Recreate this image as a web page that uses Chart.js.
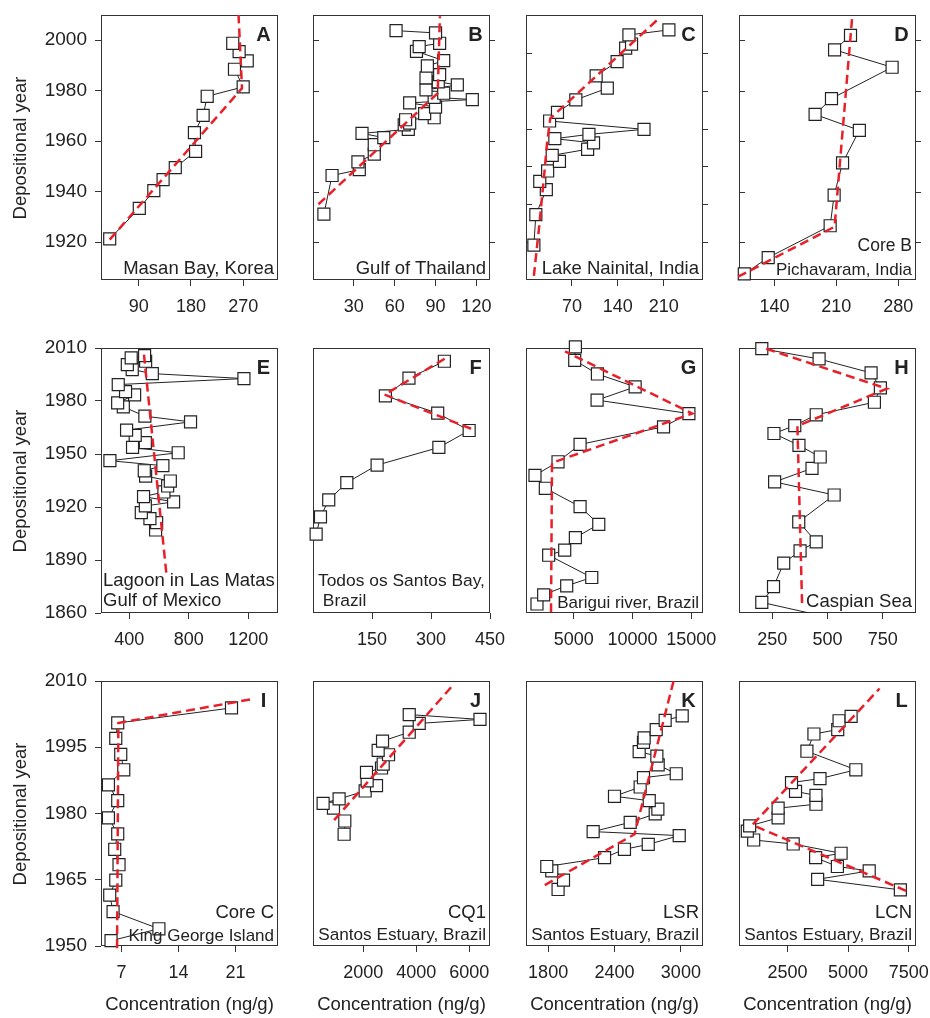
<!DOCTYPE html>
<html>
<head>
<meta charset="utf-8">
<script src="https://cdn.jsdelivr.net/npm/chart.js@4.4.1/dist/chart.umd.min.js"></script>
<style>
  body { margin: 0; background: #fff; }
  #fig { position: relative; width: 930px; height: 1018px; overflow: hidden; font-family: "Liberation Sans", Arial, sans-serif; color: #222; }
  #fig canvas { position: absolute; }
  .lbl { position: absolute; white-space: pre; font-size: 18.5px; line-height: 18.5px; z-index: 2; }
</style>
</head>
<body>
<div id="fig"></div>
<script>
// ---- data (concentration in ng/g, depositional year) ----
const aConc = [40, 91, 116, 132, 153, 188, 186, 201, 208, 270, 255, 277, 263, 252];
const aYear = [1921.3, 1933.4, 1940.4, 1944.8, 1949.5, 1956, 1963.4, 1970.2, 1977.8, 1981.5, 1988.5, 1991.8, 1995.5, 1998.8];
const aFitConc = [40, 268, 262];
const aFitYear = [1921, 1981, 2010];

const bConc = [8, 14, 34, 33, 45, 45, 52, 36, 70, 67, 71, 68, 89, 82, 90, 71, 117, 89, 96, 83, 106, 92, 83, 93, 84, 96, 76, 78, 93, 90, 61];
const bYear = [1931.1, 1946.4, 1948.7, 1951.8, 1954.9, 1958.6, 1961.4, 1963.1, 1964.7, 1966.5, 1967.2, 1968.5, 1969.3, 1970.9, 1973.5, 1975.2, 1976.5, 1977.4, 1979, 1980.3, 1982.3, 1983.5, 1985.1, 1986.4, 1989.8, 1991.9, 1995.6, 1997.5, 1998.8, 2002.9, 2003.8];
const bFitConc = [4, 91.6, 93.2];
const bFitYear = [1935, 1979, 2009.5];

const cConc = [12, 15, 31, 21, 33, 51, 40, 94, 103, 44, 96, 180, 36, 48, 76, 124, 107, 139, 152, 161, 157, 218];
const cYear = [1918.8, 1930.9, 1940.8, 1944.1, 1948.2, 1952, 1954.4, 1956.8, 1959.3, 1961, 1962.7, 1964.7, 1968, 1971.4, 1976.4, 1981, 1985.9, 1991.5, 1996.9, 1998.5, 2002.1, 2004.1];
const cFitConc = [12, 20, 27, 32, 37, 200];
const cFitYear = [1906.6, 1926, 1944.5, 1959, 1969, 2008];

const dConc = [106, 133, 203, 207.5, 217, 236, 186, 204.5, 273, 208, 226];
const dYear = [1907.4, 1913.9, 1926.5, 1938.6, 1951.4, 1964.3, 1970.6, 1976.9, 1989.3, 1996.2, 2001.9];
const dFitConc = [99, 208, 228];
const dFitYear = [1906.3, 1926.1, 2009.7];

const eConc = [577, 584, 539, 481, 508, 698, 496, 633, 658, 676, 510, 501, 626, 270, 729, 422, 508, 440, 382, 812, 505, 360, 322, 436, 375, 326, 1171, 555, 420, 387, 510, 413, 503];
const eYear = [1907, 1911.2, 1913.4, 1916.8, 1920.6, 1922.9, 1925.9, 1928.5, 1931.9, 1934.7, 1937.5, 1940.5, 1943.4, 1946.2, 1950.7, 1953.7, 1956.4, 1960.5, 1963.5, 1968.2, 1971.4, 1976.7, 1978.9, 1983.5, 1985.3, 1989.3, 1992.7, 1995.5, 1997.8, 2000.6, 2002.5, 2004.4, 2005.7];
const eFitConc = [499, 651];
const eFitYear = [2006.2, 1881];

const fConc = [8, 19, 40, 86, 163, 320, 397, 317, 184, 244, 334];
const fYear = [1904.6, 1914.4, 1924, 1933.8, 1943.7, 1953.7, 1963.3, 1973.1, 1982.9, 1992.9, 2002.5];
const fFitConc = [402, 182, 345];
const fFitYear = [1964.3, 1983.6, 2005.3];

const gConc = [1875, 2443, 4403, 6534, 2869, 4233, 5142, 7131, 5540, 2585, 1705, 3665, 5540, 12642, 14801, 6989, 10227, 7017, 5085, 5142];
const gYear = [1865.1, 1870.3, 1875.4, 1880.1, 1892.7, 1895.6, 1902.7, 1910.2, 1920.2, 1930.6, 1937.9, 1945.6, 1955.4, 1965.4, 1972.9, 1980.5, 1988, 1995.3, 2003, 2010.6];
const gFitConc = [3068, 3153, 15085, 4261];
const gFitYear = [1860.4, 1945, 1972.9, 2008.1];

const hConc = [203, 256, 302, 376, 449, 370, 530, 261, 430, 467, 371, 258, 352, 449, 712, 739, 697, 462, 203];
const hYear = [1866, 1874.9, 1888.2, 1895.2, 1900.3, 1911.6, 1926.8, 1934.2, 1941.9, 1948.3, 1954.9, 1961.6, 1966.1, 1972.2, 1979.3, 1987.4, 1995.9, 2003.8, 2009.6];
const hTailConc = [203, 560];   // segment leaving the bottom of the panel
const hTailYear = [1866, 1856];
const hFitConc = [385, 364, 768, 223];
const hFitYear = [1865.6, 1965.8, 1987, 2009.6];

const iConc = [5.73, 11.6, 5.98, 5.57, 6.31, 6.71, 6.18, 6.55, 5.41, 6.55, 5.41, 7.29, 6.92, 6.31, 6.55, 20.5];
const iYear = [1951.2, 1953.9, 1957.8, 1961.5, 1964.9, 1968.4, 1971.9, 1975.4, 1979, 1982.9, 1986.5, 1989.9, 1993.4, 1997, 2000.5, 2003.9];
const iFitConc = [6.47, 6.63, 23];
const iFitYear = [1949.5, 2000.5, 2005.9];

const jConc = [1283, 1308, 881, 491, 1094, 2075, 2503, 2151, 2126, 2692, 2755, 2956, 2566, 2730, 3736, 4113, 6403, 3736];
const jYear = [1975.3, 1978.3, 1981.2, 1982.3, 1983.3, 1985.1, 1986.3, 1987.4, 1989.3, 1990.3, 1991.2, 1993.3, 1994.3, 1996.4, 1998.4, 2000.4, 2001.3, 2002.4];
const jFitConc = [906, 5434];
const jFitYear = [1978.5, 2009.4];

const kConc = [1890, 1939, 1833, 1788, 2310, 2490, 2705, 2985, 2207, 2542, 2768, 2792, 2714, 2400, 2632, 2662, 2958, 2795, 2783, 2623, 2662, 2668, 2777, 2858, 3012];
const kYear = [1962.8, 1964.9, 1967, 1968, 1970, 1971.9, 1973, 1975, 1975.9, 1978, 1979.9, 1981, 1982.9, 1983.9, 1986, 1988.1, 1989, 1991, 1993, 1994, 1996.1, 1997.1, 1999, 2001.1, 2002.1];
const kFitConc = [1770, 2581, 2934];
const kFitYear = [1963.8, 1975.3, 2010];

const lConc = [7155, 3743, 5870, 4558, 3660, 4710, 2735, 1105, 843, 939, 2113, 2113, 3674, 3674, 2831, 2666, 3840, 5318, 3301, 3591, 4572, 4627, 5124];
const lYear = [1962.7, 1965.1, 1967, 1968, 1970, 1971, 1973.1, 1974, 1976, 1977.2, 1979, 1981.2, 1982.1, 1984.1, 1985, 1987, 1987.9, 1989.9, 1994.1, 1998, 1999, 2001, 2002];
const lFitConc = [7390, 1050, 6298];
const lFitYear = [1962.5, 1977.4, 2008.3];

// ---- tick labels ----
const row1YearTicks = [1920, 1940, 1960, 1980, 2000];
const cYearTicks = [1920, 1935, 1950, 1965, 1980, 1995];
const row2YearTicks = [1860, 1890, 1920, 1950, 1980, 2010];
const row3YearTicks = [1950, 1965, 1980, 1995, 2010];
const aTicks = [90, 180, 270];
const bTicks = [30, 60, 90, 120];
const cTicks = [70, 140, 210];
const dTicks = [140, 210, 280];
const eTicks = [400, 800, 1200];
const fTicks = [150, 300, 450];
const gTicks = [5000, 10000, 15000];
const hTicks = [250, 500, 750];
const iTicks = [7, 14, 21];
const jTicks = [2000, 4000, 6000];
const kTicks = [1800, 2400, 3000];
const lTicks = [2500, 5000, 7500];

const yTitle = 'Depositional year';
const xTitle = 'Concentration (ng/g)';

// ---- layout ----
const FONT = '"Liberation Sans", Arial, sans-serif';
const colLeft = [101, 313, 526, 739];
const rowTop = [15, 348, 681];
const boxW = 177, boxH = 265;
const rowYears = [[1905, 2010], [1860, 2010], [1950, 2010]];

// text: site lines; fs: font size of each line (some are set a bit narrower in the figure)
const panels = [
  { id: 'A', row: 0, col: 0, conc: aConc, year: aYear, fx: aFitConc, fy: aFitYear, x: [25, 330], xt: aTicks, yt: row1YearTicks, text: ['Masan Bay, Korea'], fs: [18.5] },
  { id: 'B', row: 0, col: 1, conc: bConc, year: bYear, fx: bFitConc, fy: bFitYear, x: [0, 130], xt: bTicks, yt: row1YearTicks, side: true, text: ['Gulf of Thailand'], fs: [18.5] },
  { id: 'C', row: 0, col: 2, conc: cConc, year: cYear, fx: cFitConc, fy: cFitYear, x: [0, 270], xt: cTicks, yt: cYearTicks, side: true, text: ['Lake Nainital, India'], fs: [18.5] },
  { id: 'D', row: 0, col: 3, conc: dConc, year: dYear, fx: dFitConc, fy: dFitYear, x: [100, 300], xt: dTicks, yt: row1YearTicks, side: true, text: ['Core B', 'Pichavaram, India'], fs: [17.5, 17] },
  { id: 'E', row: 1, col: 0, conc: eConc, year: eYear, fx: eFitConc, fy: eFitYear, x: [210, 1400], xt: eTicks, yt: row2YearTicks, left: 2, text: ['Lagoon in Las Matas', 'Gulf of Mexico'], fs: [18.5, 18.5] },
  { id: 'F', row: 1, col: 1, conc: fConc, year: fYear, fx: fFitConc, fy: fFitYear, x: [0, 450], xt: fTicks, yt: row2YearTicks, left: 5, text: ['Todos os Santos Bay,', ' Brazil'], fs: [17.4, 17.4] },
  { id: 'G', row: 1, col: 2, conc: gConc, year: gYear, fx: gFitConc, fy: gFitYear, x: [940, 16000], xt: gTicks, yt: row2YearTicks, text: ['Barigui river, Brazil'], fs: [17] },
  { id: 'H', row: 1, col: 3, conc: hConc, year: hYear, fx: hFitConc, fy: hFitYear, x: [100, 900], xt: hTicks, yt: row2YearTicks, tail: [hTailConc, hTailYear], text: ['Caspian Sea'], fs: [18.5] },
  { id: 'I', row: 2, col: 0, conc: iConc, year: iYear, fx: iFitConc, fy: iFitYear, x: [4.5, 26.2], xt: iTicks, yt: row3YearTicks, text: ['Core C', 'King George Island'], fs: [18.5, 17] },
  { id: 'J', row: 2, col: 1, conc: jConc, year: jYear, fx: jFitConc, fy: jFitYear, x: [110, 6780], xt: jTicks, yt: row3YearTicks, text: ['CQ1', 'Santos Estuary, Brazil'], fs: [18.5, 17.2] },
  { id: 'K', row: 2, col: 2, conc: kConc, year: kYear, fx: kFitConc, fy: kFitYear, x: [1600, 3200], xt: kTicks, yt: row3YearTicks, text: ['LSR', 'Santos Estuary, Brazil'], fs: [18.5, 17.2] },
  { id: 'L', row: 2, col: 3, conc: lConc, year: lYear, fx: lFitConc, fy: lFitYear, x: [500, 7800], xt: lTicks, yt: row3YearTicks, text: ['LCN', 'Santos Estuary, Brazil'], fs: [18.5, 17.2] },
];

const fig = document.getElementById('fig');
const zip = (xs, ys) => xs.map((x, i) => ({ x: x, y: ys[i] }));

// box round the plot area, plus the small unlabelled year ticks on panels B-D
const framePlugin = {
  id: 'frame',
  beforeDatasetsDraw(chart, args, opts) {
    const a = chart.chartArea, ctx = chart.ctx;
    ctx.save();
    ctx.strokeStyle = '#333';
    ctx.lineWidth = 1;
    ctx.strokeRect(Math.round(a.left) + 0.5, Math.round(a.top) + 0.5, Math.round(a.right - a.left) - 1, Math.round(a.bottom - a.top) - 1);
    if (opts.side) {
      const ys = chart.scales.y;
      ctx.beginPath();
      for (const t of ys.ticks) {
        const py = Math.round(ys.getPixelForValue(t.value)) + 0.5;
        ctx.moveTo(a.left, py); ctx.lineTo(a.left + 6, py);
        ctx.moveTo(a.right - 1, py); ctx.lineTo(a.right + 5, py);
      }
      ctx.stroke();
    }
    ctx.restore();
  }
};

function addLabel(text, x, baseline, align, size, bold) {
  const d = document.createElement('div');
  d.className = 'lbl';
  d.textContent = text;
  d.style.fontSize = size + 'px';
  d.style.lineHeight = size + 'px';
  if (bold) d.style.fontWeight = 'bold';
  const top = baseline - 0.8465 * size;
  d.style.top = top + 'px';
  if (align === 'right') { d.style.left = (x - 400) + 'px'; d.style.width = '400px'; d.style.textAlign = 'right'; }
  else if (align === 'center') { d.style.left = (x - 200) + 'px'; d.style.width = '400px'; d.style.textAlign = 'center'; }
  else { d.style.left = x + 'px'; }
  fig.appendChild(d);
}

function makePanel(p) {
  const left = colLeft[p.col], top = rowTop[p.row];
  const ml = p.col === 0 ? 100 : 10, mt = 14, mr = 40, mb = 50;
  const cv = document.createElement('canvas');
  cv.width = boxW + ml + mr;
  cv.height = boxH + mt + mb;
  cv.style.left = (left - ml) + 'px';
  cv.style.top = (top - mt) + 'px';
  fig.appendChild(cv);

  const datasets = [
    { data: zip(p.fx, p.fy), showLine: true, borderColor: '#e8202a', borderWidth: 2.5, borderDash: [9, 5],
      pointRadius: 0, order: 0, clip: false },
    { data: zip(p.conc, p.year), showLine: true, borderColor: '#222', borderWidth: 1,
      pointStyle: 'rect', pointRadius: 8.5, pointBorderWidth: 1.2, pointBackgroundColor: '#fff',
      pointBorderColor: '#222', order: 1, clip: false },
  ];
  if (p.tail) {
    datasets.push({ data: zip(p.tail[0], p.tail[1]), showLine: true, borderColor: '#222', borderWidth: 1,
      pointRadius: 0, order: 2, clip: 0 });
  }

  const yr = rowYears[p.row];
  new Chart(cv, {
    type: 'scatter',
    data: { datasets: datasets },
    options: {
      responsive: false,
      animation: false,
      events: [],
      layout: { padding: { left: 0, top: mt, right: mr, bottom: 0 }, autoPadding: false },
      plugins: { legend: { display: false }, tooltip: { enabled: false }, frame: { side: !!p.side } },
      scales: {
        x: {
          type: 'linear', min: p.x[0], max: p.x[1],
          afterBuildTicks: s => { s.ticks = p.xt.map(v => ({ value: v })); },
          afterFit: s => { s.height = mb; s.paddingLeft = 0; s.paddingRight = 0; },
          grid: { drawOnChartArea: false, drawTicks: true, tickLength: 6, color: '#333' },
          border: { display: false },
          ticks: { padding: 10, color: '#222', font: { size: 18, family: FONT }, maxRotation: 0, autoSkip: false, callback: v => String(v) }
        },
        y: {
          type: 'linear', min: yr[0], max: yr[1],
          afterBuildTicks: s => { s.ticks = p.yt.map(v => ({ value: v })); },
          afterFit: s => { s.width = ml; s.paddingTop = 0; s.paddingBottom = 0; },
          grid: { display: p.col === 0, drawOnChartArea: false, drawTicks: true, tickLength: 6, color: '#333' },
          border: { display: false },
          ticks: { display: p.col === 0, padding: 8, color: '#222', font: { size: 19, family: FONT }, autoSkip: false, callback: v => String(v) }
        }
      }
    },
    plugins: [framePlugin]
  });

  // panel letter and site names
  const right = left + boxW, bottom = top + boxH;
  addLabel(p.id, right - 14.5, top + 26, 'center', 20, true);
  const n = p.text.length;
  p.text.forEach((t, i) => {
    if (p.left !== undefined) {
      addLabel(t, left + p.left, bottom - 6 - (n - 1 - i) * 20, 'left', p.fs[i], false);
    } else {
      addLabel(t, right - 4, bottom - 5 - (n - 1 - i) * 22.7, 'right', p.fs[i], false);
    }
  });
  if (p.row === 2) addLabel(xTitle, left + boxW / 2, 1011, 'center', 18.5, false);
  if (p.col === 0) {
    const d = document.createElement('div');
    d.className = 'lbl';
    d.textContent = yTitle;
    d.style.left = '20px';
    d.style.top = (top + boxH / 2) + 'px';
    d.style.transform = 'translate(-50%, -50%) rotate(-90deg)';
    fig.appendChild(d);
  }
}

panels.forEach(makePanel);
</script>
</body>
</html>
